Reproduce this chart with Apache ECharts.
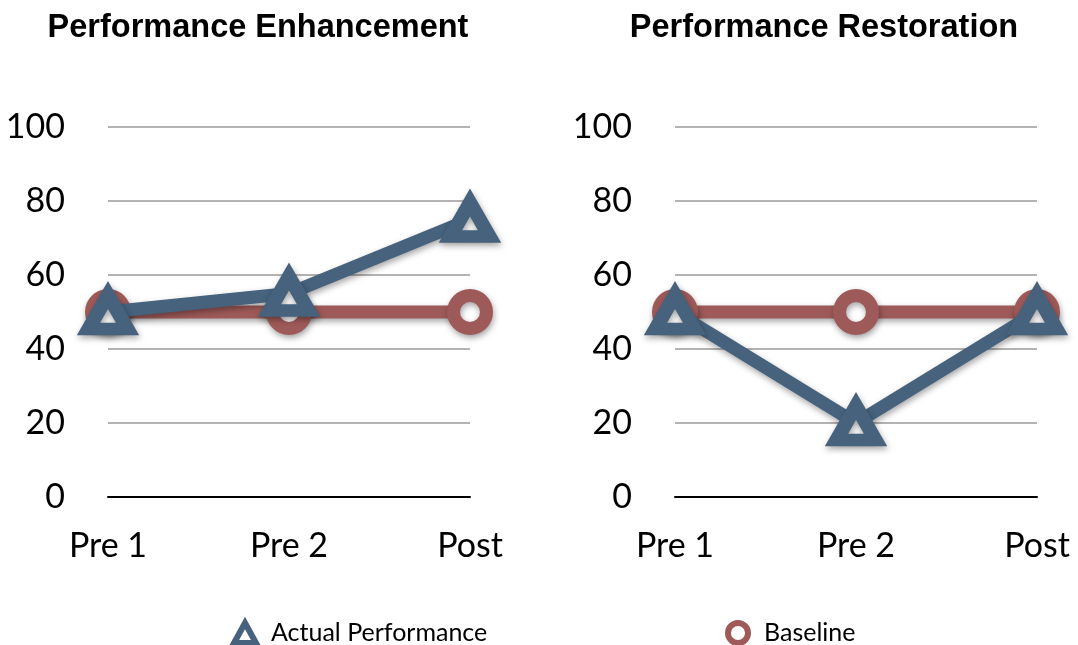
<!DOCTYPE html>
<html><head><meta charset="utf-8">
<script src="https://cdn.jsdelivr.net/npm/echarts@6/dist/echarts.min.js"></script>
<style>html,body{margin:0;padding:0;background:#fff}#c{width:1078px;height:645px}</style>
</head><body><div id="c"></div>
<script>
const categories = ['Pre 1', 'Pre 2', 'Post'];
const yTicks = [0, 20, 40, 60, 80, 100];
const titles = ['Performance Enhancement', 'Performance Restoration'];
const enhActual = [50, 55, 75];
const enhBaseline = [50, 50, 50];
const resActual = [50, 20, 50];
const resBaseline = [50, 50, 50];

const BLUE = '#46627d', RED = '#9e5a59';
const chart = echarts.init(document.getElementById('c'));
const grids = [{left: 108, width: 362, top: 127, height: 370}, {left: 675, width: 362, top: 127, height: 370}];
function xAx(i){return {type:'category', gridIndex:i, data:categories, boundaryGap:false,
  axisLine:{show:true, lineStyle:{color:'#000', width:2}}, axisTick:{show:false},
  axisLabel:{fontFamily:'Lato', fontSize:34, color:'#000', margin:32}};}
function yAx(i){return {type:'value', gridIndex:i, min:yTicks[0], max:yTicks[yTicks.length-1], interval:20,
  axisLine:{show:false}, axisTick:{show:false},
  splitLine:{lineStyle:{color:'#b3b3b3', width:2}},
  axisLabel:{fontFamily:'Lato', fontSize:34, color:'#000', margin:43}};}
const shadow = {shadowBlur:6, shadowColor:'rgba(0,0,0,0.35)', shadowOffsetY:3, shadowOffsetX:1};
function base(i, data){return {name:'Baseline', type:'line', xAxisIndex:i, yAxisIndex:i, data:data, z:2,
  symbol:'circle', symbolSize:33, lineStyle:Object.assign({color:RED, width:13}, shadow),
  itemStyle:Object.assign({color:'#fff', borderColor:RED, borderWidth:13}, shadow)};}
function act(i, data){return {name:'Actual Performance', type:'line', xAxisIndex:i, yAxisIndex:i, data:data, z:3,
  symbol:'triangle', symbolSize:[39,34], lineStyle:Object.assign({color:BLUE, width:13}, shadow),
  itemStyle:Object.assign({color:'#fff', borderColor:BLUE, borderWidth:13.5, borderJoin:'miter'}, shadow)};}
chart.setOption({
  animation:false,
  title:[
    {text:titles[0], left:253, top:7, textAlign:'center', textStyle:{fontFamily:'Liberation Sans', fontWeight:'bold', fontSize:32.5, color:'#000'}},
    {text:titles[1], left:819, top:7, textAlign:'center', textStyle:{fontFamily:'Liberation Sans', fontWeight:'bold', fontSize:32.5, color:'#000'}}
  ],
  legend:[
    {data:[{name:'Actual Performance', icon:'triangle', itemStyle:{color:'#fff', borderColor:BLUE, borderWidth:6}}], left:226, top:615, itemWidth:22, itemHeight:20, itemGap:10,
      textStyle:{fontFamily:'Lato', fontSize:25, color:'#000', padding:[0,0,0,10]}},
    {data:[{name:'Baseline', icon:'circle', itemStyle:{color:'#fff', borderColor:RED, borderWidth:6}}], left:720, top:615, itemWidth:22, itemHeight:20,
      textStyle:{fontFamily:'Lato', fontSize:25, color:'#000', padding:[0,0,0,10]}}
  ],
  grid:grids,
  xAxis:[xAx(0), xAx(1)],
  yAxis:[yAx(0), yAx(1)],
  series:[base(0, enhBaseline), act(0, enhActual), base(1, resBaseline), act(1, resActual)]
});
</script></body></html>
